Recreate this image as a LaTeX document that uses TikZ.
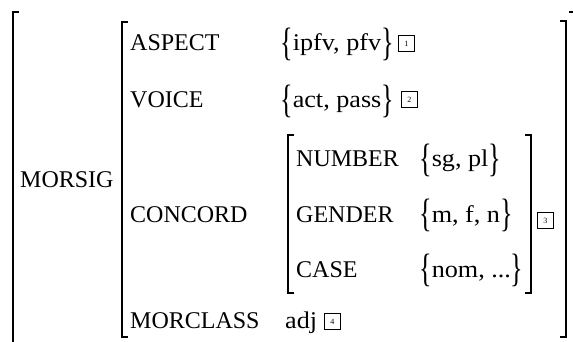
\documentclass[tikz,border=0pt]{standalone}
\usepackage{fontspec}
\setmainfont{Liberation Serif}
\newfontfamily\valfont[FakeStretch=1.09]{Liberation Serif}
\tikzset{
  lbl/.style={anchor=base west, inner sep=0pt, font=\fontsize{24}{29}\selectfont},
  val/.style={anchor=base west, inner sep=0pt, font=\fontsize{24}{29}\valfont},
  tagbox/.style={draw, line width=0.8pt, minimum size=16pt, inner sep=0pt,
                 font=\fontsize{8}{9}\selectfont, anchor=south west},
  brk/.style={line width=1.4pt, line cap=butt},
}
\newcommand{\LBr}{\raisebox{-4.5pt}{\scalebox{1}[1.65]{\{}}}
\newcommand{\RBr}{\raisebox{-4.5pt}{\scalebox{1}[1.65]{\}}}}
\begin{document}
\begin{tikzpicture}[x=1pt,y=-1pt]
\useasboundingbox (0,0) rectangle (573,342);
% outer brackets
\draw[brk] (19,12) -- (13,12) -- (13,350);
\draw[brk] (569,12) -- (576,12) -- (576,350);
% inner AVM brackets
\draw[brk] (128,22) -- (122,22) -- (122,337) -- (128,337);
\draw[brk] (560,21) -- (566,21) -- (566,337) -- (560,337);
% CONCORD brackets
\draw[brk] (294,135) -- (288,135) -- (288,293) -- (294,293);
\draw[brk] (525,135) -- (531,135) -- (531,293) -- (525,293);

\node[lbl] (morsig) at (20,187) {MORSIG};

\node[lbl] (aspect) at (130,51) {ASPECT};
\node[val] (aspectv) at (280,51) {\LBr ipfv, pfv\RBr};
\node[tagbox] (t1) at (398,52) {1};

\node[lbl] (voice) at (130,108) {VOICE};
\node[val] (voicev) at (280,108) {\LBr act, pass\RBr};
\node[tagbox] (t2) at (401,108) {2};

\node[lbl] (concord) at (130,222) {CONCORD};

\node[lbl] (number) at (296,167) {NUMBER};
\node[val] (numberv) at (419,167) {\LBr sg, pl\RBr};
\node[lbl] (gender) at (296,222) {GENDER};
\node[val] (genderv) at (419,222) {\LBr m, f, n\RBr};
\node[lbl] (case) at (296,277) {CASE};
\node[val] (casev) at (419,277) {\LBr nom, ...\RBr};

\node[tagbox] (t3) at (537,229) {3};

\node[lbl] (morclass) at (130,328) {MORCLASS};
\node[val] (adj) at (285,328) {adj};
\node[tagbox] (t4) at (324,330) {4};
\end{tikzpicture}
\end{document}
